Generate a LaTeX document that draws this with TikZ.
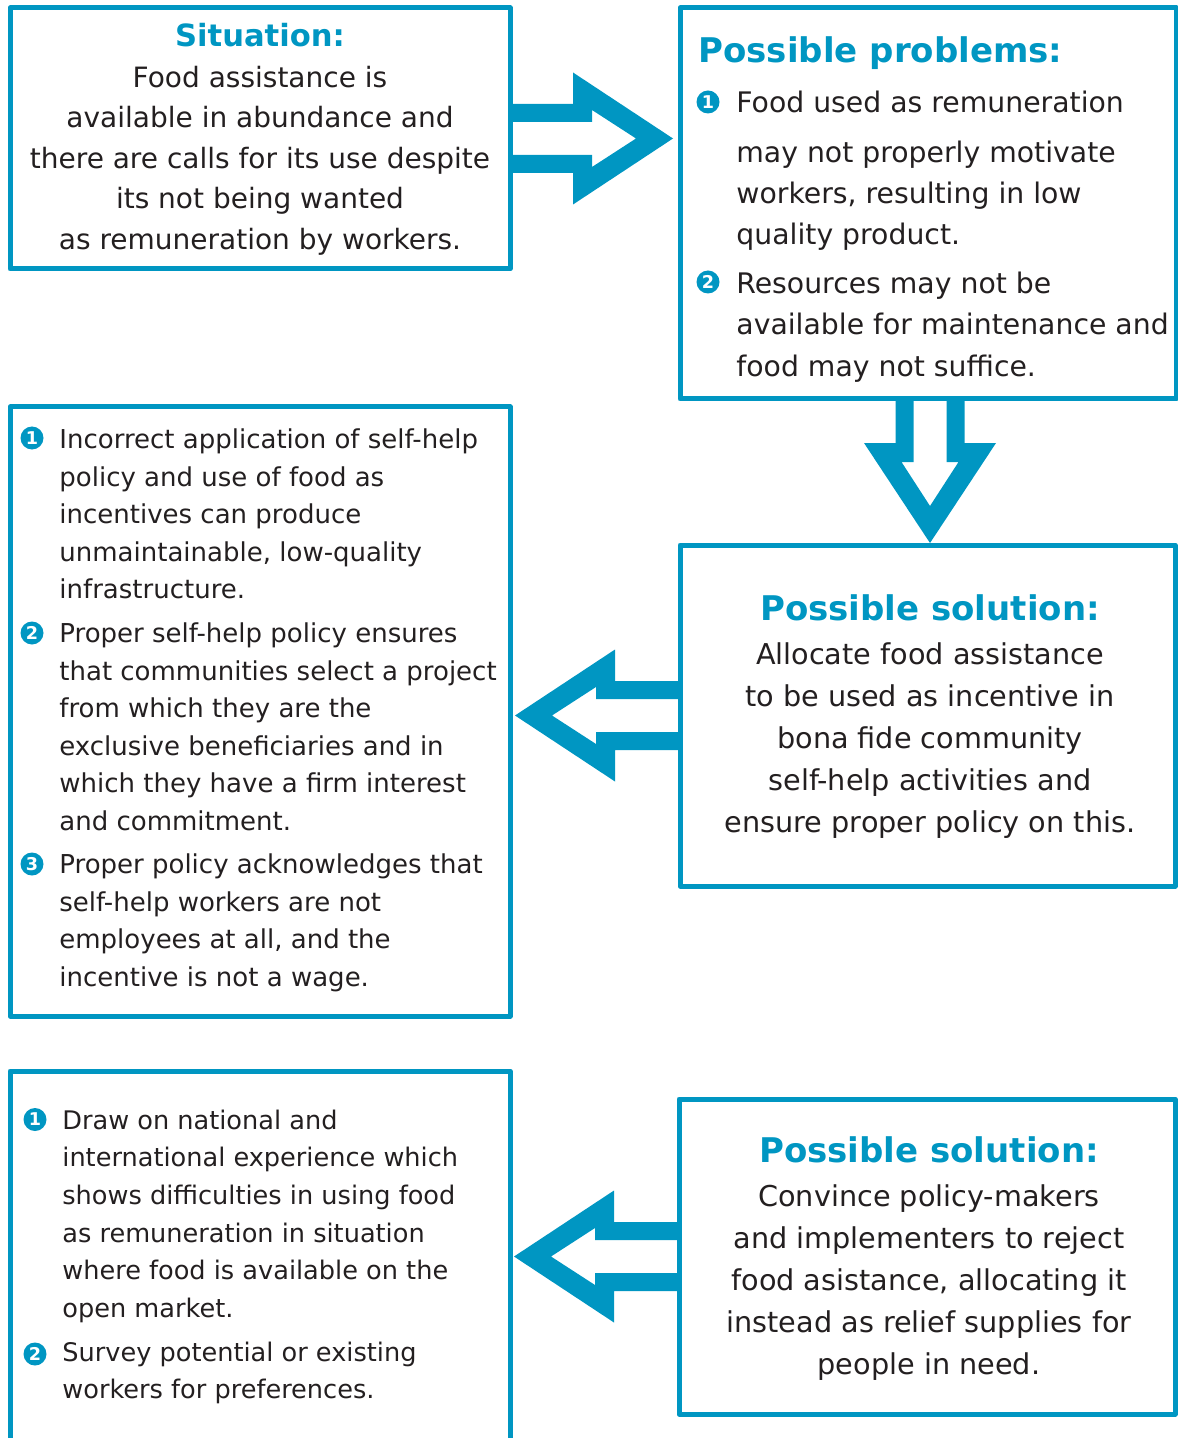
\documentclass[tikz,border=0pt]{standalone}
\usepackage{fontspec}
\setmainfont{DejaVu Sans}
\usetikzlibrary{calc}

\definecolor{accent}{RGB}{0,150,194}
\definecolor{ink}{RGB}{35,31,32}

% hollow block arrow: start point, direction, shaft length
\newcommand{\bigarrow}[3]{%
  \begin{scope}[shift={#1}, rotate=#2]
    \fill[accent, even odd rule]
      (0,-34.5) -- (#3,-34.5) -- (#3,-66) -- ({#3+100},0) -- (#3,66) -- (#3,34.5) -- (0,34.5) -- cycle
      (0,-16.5) -- ({#3+19},-16.5) -- ({#3+19},-28.5) -- ({#3+63},0) -- ({#3+19},28.5) -- ({#3+19},16.5) -- (0,16.5) -- cycle;
  \end{scope}}

\tikzset{
  box/.style={draw=accent, line width=2.5pt, inner sep=0pt, outer sep=0pt},
  head/.style={text=accent, inner sep=0pt, font=\bfseries\fontsize{17}{20}\selectfont},
  body/.style={text=ink, inner sep=0pt, align=center, anchor=north},
  item/.style={text=ink, inner sep=0pt, align=left, anchor=north west},
  num/.style={circle, fill=accent, text=white, inner sep=0pt, minimum size=11.5pt,
    font=\bfseries\fontsize{8.8}{8.8}\selectfont},
}

\begin{document}
\begin{tikzpicture}[x=0.5pt, y=-0.5pt, line join=round]
  \useasboundingbox (0,0) rectangle (1177,1438);

  % the six boxes
  \node[box, minimum width=250pt, minimum height=130.5pt] (sit) at (260,138.5) {};
  \node[box, minimum width=248pt, minimum height=195.5pt] (probs) at (928,203.5) {};
  \node[box, minimum width=250pt, minimum height=304.5pt] (why) at (260,711.5) {};
  \node[box, minimum width=247.5pt, minimum height=170.5pt] (sol) at (927.5,715.5) {};
  \node[box, minimum width=250pt, minimum height=199pt] (how) at (260,1270) {};
  \node[box, minimum width=248pt, minimum height=157.5pt] (solb) at (927,1256.5) {};

  % arrows between them
  \bigarrow{(sit.east)}{0}{63}
  \bigarrow{($(probs.south)+(2,0)$)}{-90}{44}
  \bigarrow{(sol.west)}{180}{65}
  \bigarrow{(solb.west)}{180}{65}

  % Situation
  \node[head, font=\bfseries\fontsize{15.3}{18}\selectfont, anchor=north] (sith) at (260,22.5) {Situation:};
  \node[body, font=\fontsize{14}{20.25}\selectfont] (sitt) at (260,65.5)
    {Food assistance is\\ available in abundance and\\ there are calls for its use despite\\
     its not being wanted\\ as remuneration by workers.};

  % Possible problems
  \node[head, anchor=north west] (probsh) at (698,36) {Possible problems:};
  \node[num] (pn1) at (708,102) {1};
  \node[item, font=\fontsize{14.15}{20.5}\selectfont] (pt1) at (736,90.5)
    {Food used as remuneration\\[4.5pt] may not properly motivate\\ workers, resulting in low\\ quality product.};
  \node[num] (pn2) at (708,282) {2};
  \node[item, font=\fontsize{14.15}{20.75}\selectfont] (pt2) at (736,271.5)
    {Resources may not be\\ available for maintenance and\\ food may not suffice.};

  % left list
  \node[num] (wn1) at (32,438) {1};
  \node[item, font=\fontsize{13}{18.75}\selectfont] (wt1) at (59,428.5)
    {Incorrect application of self-help\\ policy and use of food as\\ incentives can produce\\
     unmaintainable, low-quality\\ infrastructure.};
  \node[num] (wn2) at (32,633) {2};
  \node[item, font=\fontsize{13}{18.75}\selectfont] (wt2) at (59,622.5)
    {Proper self-help policy ensures\\ that communities select a project\\ from which they are the\\
     exclusive beneficiaries and in\\ which they have a firm interest\\ and commitment.};
  \node[num] (wn3) at (32,864) {3};
  \node[item, font=\fontsize{13}{18.75}\selectfont] (wt3) at (59,853.5)
    {Proper policy acknowledges that\\ self-help workers are not\\ employees at all, and the\\
     incentive is not a wage.};

  % Possible solution
  \node[head, anchor=north] (solh) at (930,594) {Possible solution:};
  \node[body, font=\fontsize{14.35}{21}\selectfont] (solt) at (930,642)
    {Allocate food assistance\\ to be used as incentive in\\ bona fide community\\
     self-help activities and\\ ensure proper policy on this.};

  % bottom list
  \node[num] (hn1) at (35,1119.5) {1};
  \node[item, font=\fontsize{12.8}{18.8}\selectfont] (ht1) at (62,1109.5)
    {Draw on national and\\ international experience which\\ shows difficulties in using food\\
     as remuneration in situation\\ where food is available on the\\ open market.};
  \node[num] (hn2) at (35,1354) {2};
  \node[item, font=\fontsize{12.8}{18.8}\selectfont] (ht2) at (62,1341.5)
    {Survey potential or existing\\ workers for preferences.};

  % second Possible solution
  \node[head, anchor=north] (solbh) at (929,1136) {Possible solution:};
  \node[body, font=\fontsize{14.35}{21}\selectfont] (solbt) at (929,1184)
    {Convince policy-makers\\ and implementers to reject\\ food asistance, allocating it\\
     instead as relief supplies for\\ people in need.};
\end{tikzpicture}
\end{document}
